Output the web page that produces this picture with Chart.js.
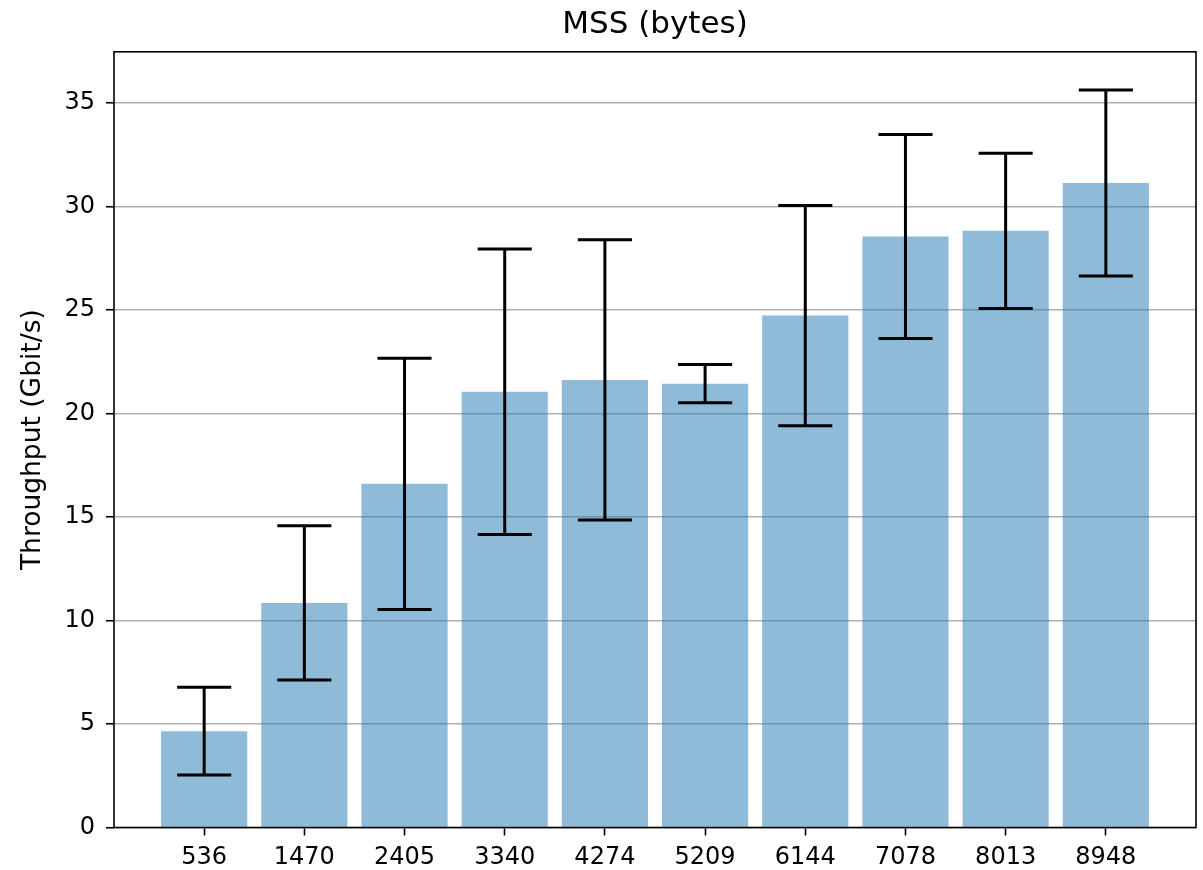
<!DOCTYPE html>
<html>
<head>
<meta charset="utf-8">
<script src="https://cdn.jsdelivr.net/npm/chart.js@4.4.1/dist/chart.umd.min.js"></script>
<style>
  html, body { margin: 0; padding: 0; background: #fff; }
  #wrap { width: 1203px; height: 870px; position: relative; }
</style>
</head>
<body>
<div id="wrap"><canvas id="c"></canvas></div>
<script>
// ---- data ----
const categories = ['536', '1470', '2405', '3340', '4274', '5209', '6144', '7078', '8013', '8948'];
const throughput = [4.65, 10.85, 16.6, 21.05, 21.62, 21.44, 24.73, 28.55, 28.82, 31.13];
const errors = [2.12, 3.72, 6.07, 6.9, 6.77, 0.92, 5.32, 4.93, 3.75, 4.49];
const yTicks = [0, 5, 10, 15, 20, 25, 30, 35];

const FONT = 'DejaVu Sans';

const errorBarPlugin = {
  id: 'errorBars',
  afterDraw(chart) {
    const { ctx, scales: { x, y }, chartArea } = chart;
    const capHalf = x.getPixelForValue(0.27) - x.getPixelForValue(0);
    ctx.save();
    ctx.strokeStyle = '#000';
    ctx.lineWidth = 3;
    ctx.lineCap = 'butt';
    throughput.forEach((v, i) => {
      const px = x.getPixelForValue(i);
      const top = y.getPixelForValue(v + errors[i]);
      const bot = y.getPixelForValue(v - errors[i]);
      ctx.beginPath();
      ctx.moveTo(px, top); ctx.lineTo(px, bot);
      ctx.moveTo(px - capHalf, top); ctx.lineTo(px + capHalf, top);
      ctx.moveTo(px - capHalf, bot); ctx.lineTo(px + capHalf, bot);
      ctx.stroke();
    });
    // axes frame
    ctx.lineWidth = 1.6;
    ctx.strokeStyle = '#000';
    ctx.strokeRect(chartArea.left, chartArea.top, chartArea.right - chartArea.left, chartArea.bottom - chartArea.top);
    ctx.restore();
  }
};

new Chart(document.getElementById('c'), {
  type: 'bar',
  data: {
    datasets: [{
      data: throughput.map((v, i) => ({ x: i, y: v })),
      backgroundColor: 'rgba(31,119,180,0.5)',
      borderWidth: 0,
      barPercentage: 0.86,
      categoryPercentage: 1.0
    }]
  },
  options: {
    responsive: true,
    maintainAspectRatio: false,
    animation: false,
    devicePixelRatio: 1,
    layout: { padding: { left: 0, right: 7, top: 0, bottom: 0 } },
    plugins: {
      legend: { display: false },
      tooltip: { enabled: false },
      title: { display: false }
    },
    scales: {
      x: {
        type: 'linear',
        min: -0.9,
        max: 9.9,
        offset: false,
        afterBuildTicks: (scale) => { scale.ticks = categories.map((c, i) => ({ value: i })); },
        afterFit: (scale) => { scale.height = 42.5; },
        ticks: {
          autoSkip: false,
          maxRotation: 0,
          color: '#000',
          font: { family: FONT, size: 24 },
          padding: 8,
          callback: (v) => categories[v]
        },
        grid: {
          display: true,
          drawOnChartArea: false,
          drawTicks: true,
          offset: false,
          tickLength: 8,
          tickColor: '#000',
          tickWidth: 1.6
        },
        border: { display: false }
      },
      xTop: {
        type: 'linear',
        position: 'top',
        min: 0,
        max: 1,
        afterFit: (scale) => { scale.height = 51.8; },
        ticks: { display: false },
        grid: { display: false },
        border: { display: false },
        title: {
          display: true,
          text: 'MSS (bytes)',
          color: '#000',
          font: { family: FONT, size: 31, weight: 'normal' },
          padding: { top: 6, bottom: 0 }
        }
      },
      y: {
        min: 0,
        max: 37.47,
        z: 1,
        afterBuildTicks: (scale) => { scale.ticks = yTicks.map(v => ({ value: v })); },
        afterFit: (scale) => { scale.width = 114; },
        ticks: {
          color: '#000',
          font: { family: FONT, size: 24 },
          padding: 11,
          callback: (v) => String(v)
        },
        grid: {
          color: '#b0b0b0',
          lineWidth: 1.5,
          drawTicks: true,
          tickLength: 8,
          tickColor: '#000',
          tickWidth: 1.6
        },
        border: { display: false },
        title: {
          display: true,
          text: 'Throughput (Gbit/s)',
          color: '#000',
          font: { family: FONT, size: 26.5 },
          padding: { top: 17, bottom: 0 }
        }
      }
    }
  },
  plugins: [errorBarPlugin]
});
</script>
</body>
</html>
